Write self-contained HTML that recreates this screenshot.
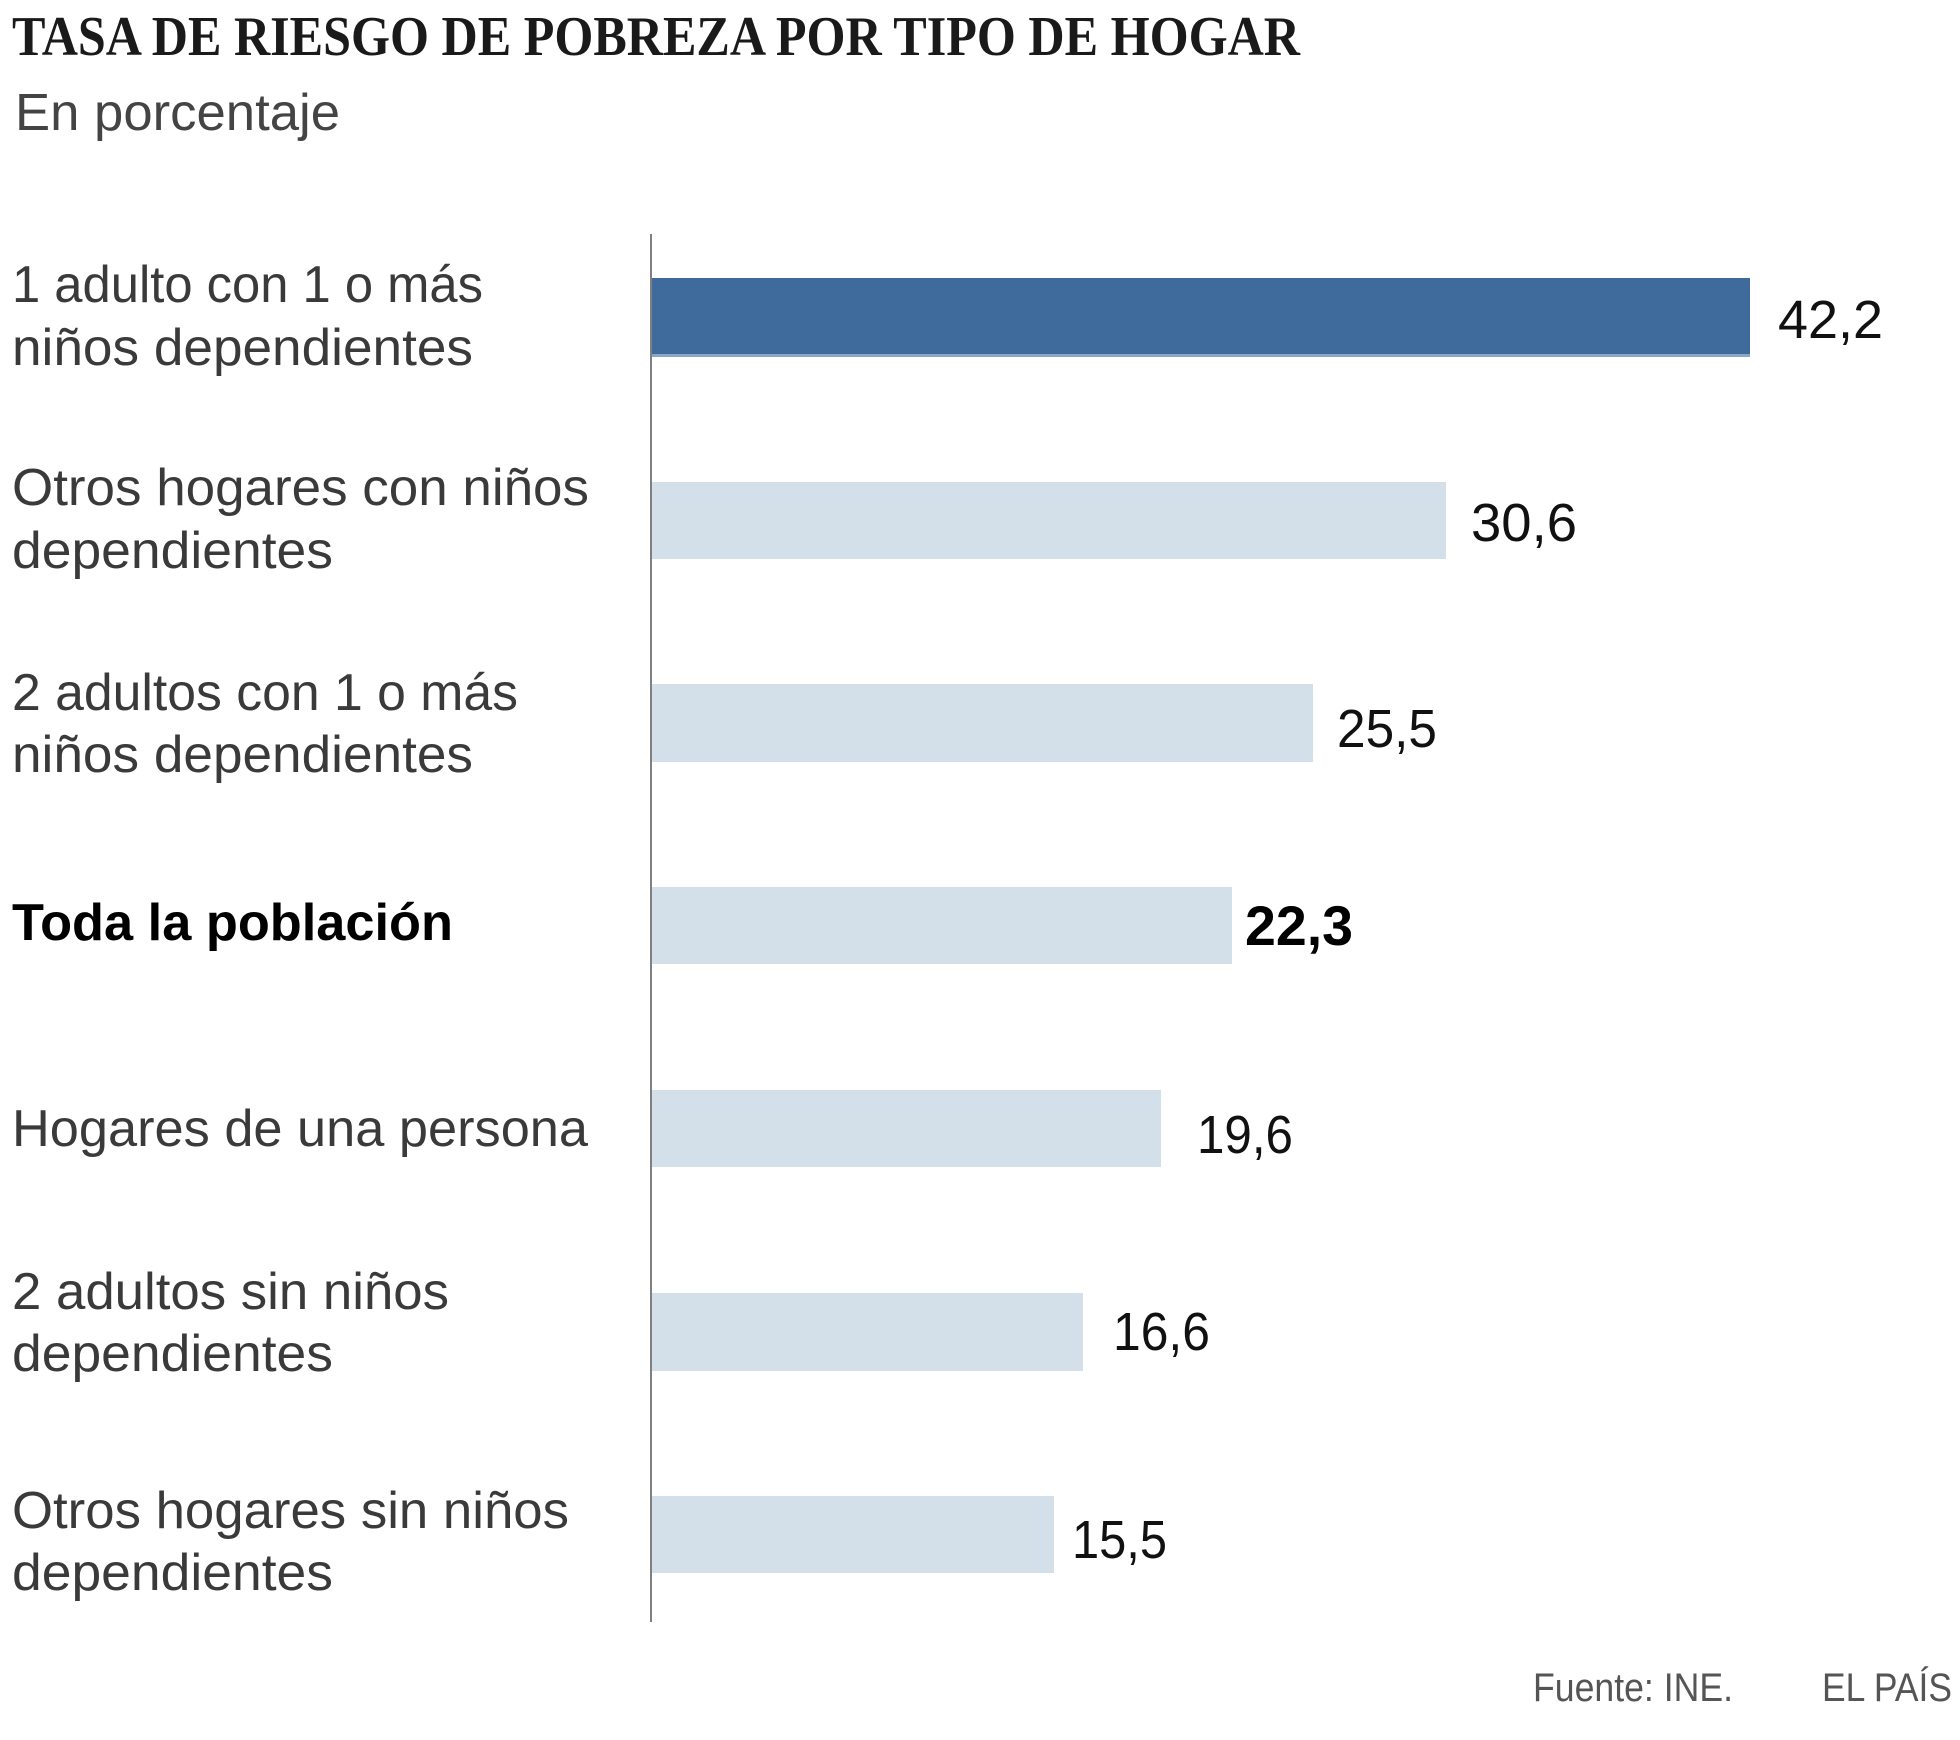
<!DOCTYPE html>
<html>
<head>
<meta charset="utf-8">
<style>
  html, body { margin: 0; padding: 0; background: #ffffff; }
  svg { display: block; }
  .lab { font-family: "Liberation Sans", sans-serif; font-size: 52px; fill: #3a3a3a; }
  .val { font-family: "Liberation Sans", sans-serif; font-size: 54px; fill: #111111; }
</style>
</head>
<body>
<svg width="1960" height="1740" viewBox="0 0 1960 1740" xmlns="http://www.w3.org/2000/svg">
  <rect x="0" y="0" width="1960" height="1740" fill="#ffffff"/>

  <!-- Title -->
  <text x="12" y="55" font-family="Liberation Serif, serif" font-weight="bold" font-size="56" fill="#1a1a1a" textLength="1288" lengthAdjust="spacingAndGlyphs">TASA DE RIESGO DE POBREZA POR TIPO DE HOGAR</text>
  <!-- Subtitle -->
  <text x="15" y="130" font-family="Liberation Sans, sans-serif" font-size="52" fill="#444444" textLength="325" lengthAdjust="spacingAndGlyphs">En porcentaje</text>

  <!-- Bars -->
  <rect x="651" y="278" width="1099" height="78" fill="#3f6b9c"/>
  <rect x="651" y="354" width="1099" height="3" fill="#8aa7c6"/>
  <rect x="651" y="482" width="795" height="77" fill="#d3e0ea"/>
  <rect x="651" y="684" width="662" height="78" fill="#d3e0ea"/>
  <rect x="651" y="887" width="581" height="77" fill="#d3e0ea"/>
  <rect x="651" y="1090" width="510" height="77" fill="#d3e0ea"/>
  <rect x="651" y="1293" width="432" height="78" fill="#d3e0ea"/>
  <rect x="651" y="1496" width="403" height="77" fill="#d3e0ea"/>

  <!-- Axis -->
  <rect x="650" y="234" width="2" height="1388" fill="#808080"/>

  <!-- Category labels -->
  <text class="lab" x="12" y="302" textLength="471" lengthAdjust="spacingAndGlyphs">1 adulto con 1 o más</text>
  <text class="lab" x="12" y="365" textLength="461" lengthAdjust="spacingAndGlyphs">niños dependientes</text>

  <text class="lab" x="12" y="505" textLength="577" lengthAdjust="spacingAndGlyphs">Otros hogares con niños</text>
  <text class="lab" x="12" y="568" textLength="321" lengthAdjust="spacingAndGlyphs">dependientes</text>

  <text class="lab" x="12" y="710" textLength="506" lengthAdjust="spacingAndGlyphs">2 adultos con 1 o más</text>
  <text class="lab" x="12" y="772" textLength="461" lengthAdjust="spacingAndGlyphs">niños dependientes</text>

  <text x="12" y="940" font-family="Liberation Sans, sans-serif" font-weight="bold" font-size="52" fill="#000000" textLength="441" lengthAdjust="spacingAndGlyphs">Toda la población</text>

  <text class="lab" x="12" y="1146" textLength="576" lengthAdjust="spacingAndGlyphs">Hogares de una persona</text>

  <text class="lab" x="12" y="1309" textLength="437" lengthAdjust="spacingAndGlyphs">2 adultos sin niños</text>
  <text class="lab" x="12" y="1371" textLength="321" lengthAdjust="spacingAndGlyphs">dependientes</text>

  <text class="lab" x="12" y="1528" textLength="557" lengthAdjust="spacingAndGlyphs">Otros hogares sin niños</text>
  <text class="lab" x="12" y="1590" textLength="321" lengthAdjust="spacingAndGlyphs">dependientes</text>

  <!-- Value labels -->
  <text class="val" x="1778" y="338" textLength="105" lengthAdjust="spacingAndGlyphs">42,2</text>
  <text class="val" x="1471" y="541" textLength="106" lengthAdjust="spacingAndGlyphs">30,6</text>
  <text class="val" x="1337" y="747" textLength="100" lengthAdjust="spacingAndGlyphs">25,5</text>
  <text x="1245" y="945" font-family="Liberation Sans, sans-serif" font-weight="bold" font-size="56" fill="#000000" textLength="108" lengthAdjust="spacingAndGlyphs">22,3</text>
  <text class="val" x="1197" y="1153" textLength="96" lengthAdjust="spacingAndGlyphs">19,6</text>
  <text class="val" x="1113" y="1350" textLength="97" lengthAdjust="spacingAndGlyphs">16,6</text>
  <text class="val" x="1072" y="1558" textLength="95" lengthAdjust="spacingAndGlyphs">15,5</text>

  <!-- Footer -->
  <text x="1533" y="1701" font-family="Liberation Sans, sans-serif" font-size="40" fill="#555555" textLength="200" lengthAdjust="spacingAndGlyphs">Fuente: INE.</text>
  <text x="1822" y="1701" font-family="Liberation Sans, sans-serif" font-size="40" fill="#555555" textLength="130" lengthAdjust="spacingAndGlyphs">EL PAÍS</text>
</svg>
</body>
</html>
